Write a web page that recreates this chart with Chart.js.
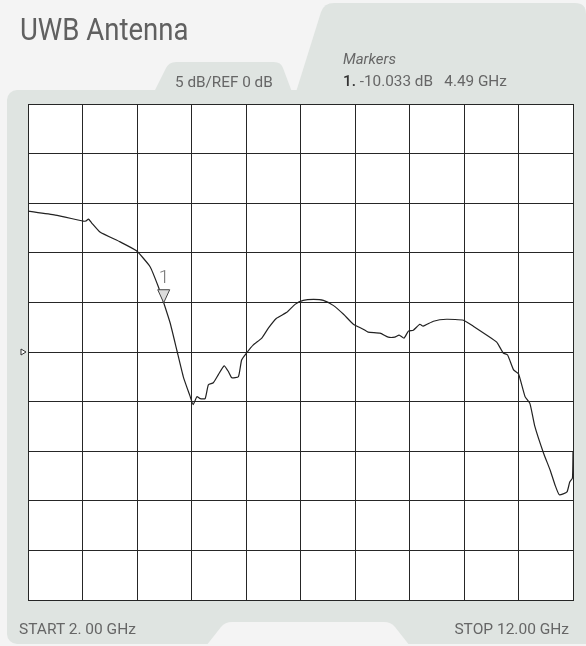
<!DOCTYPE html>
<html>
<head>
<meta charset="utf-8">
<script src="https://cdn.jsdelivr.net/npm/chart.js@4"></script>
<style>
    html, body { margin: 0; padding: 0; background: #f4f4f4; }
    #wrap { position: relative; width: 586px; height: 646px; overflow: hidden; font-family: Roboto, "Noto Sans", sans-serif; color: #666; }
    #myChart { position: absolute; left: 0; top: 0; }
    .lbl { position: absolute; white-space: pre; line-height: 1; }
    #title { left: 20px; top: 13px; font-size: 32px; color: #606060; transform: scaleX(0.86); transform-origin: left top; }
    #scaleInfo { left: 175px; top: 75px; font-size: 15.3px; }
    #markersHead { left: 343px; top: 52px; font-size: 15px; font-style: italic; }
    #markerVal { left: 343px; top: 74px; font-size: 15.3px; }
    #markerVal b { color: #333; font-weight: 500; }
    #start { left: 19px; top: 622px; font-size: 15.5px; }
    #stop { right: 17px; top: 622px; font-size: 15.5px; }
    #mk1 { font-size: 19px; font-weight: 300; color: #777; }
</style>
</head>
<body>
<div id="wrap">
    <canvas id="myChart" width="586" height="646"></canvas>
    <div class="lbl" id="title">UWB Antenna</div>
    <div class="lbl" id="scaleInfo">5 dB/REF 0 dB</div>
    <div class="lbl" id="markersHead">Markers</div>
    <div class="lbl" id="markerVal"><b>1.</b> -10.033 dB   4.49 GHz</div>
    <div class="lbl" id="start">START 2. 00 GHz</div>
    <div class="lbl" id="stop">STOP 12.00 GHz</div>
    <div class="lbl" id="mk1">1</div>
</div>
<script>
// fréquences (GHz) et réponse S11 (dB)
const freqGHz = [2.00, 2.50, 3.01, 3.06, 3.11, 3.17, 3.32, 3.69, 3.99, 4.24, 4.39, 4.49, 4.61, 4.73, 4.85,
    4.97, 5.03, 5.10, 5.16, 5.25, 5.31, 5.40, 5.49, 5.60, 5.68, 5.74, 5.86, 5.92, 6.01, 6.13, 6.29,
    6.41, 6.56, 6.75, 6.90, 7.05, 7.24, 7.42, 7.60, 7.79, 7.97, 8.15, 8.24, 8.46, 8.61, 8.73, 8.81,
    8.90, 8.98, 9.07, 9.19, 9.25, 9.44, 9.68, 9.99, 10.17, 10.42, 10.60, 10.72, 10.80, 10.91, 11.00,
    11.12, 11.21, 11.30, 11.46, 11.58, 11.67, 11.75, 11.89, 11.94, 11.99, 12.00];
const s11dB = [-0.8, -1.2, -1.8, -1.8, -1.6, -2.0, -2.9, -3.9, -4.8, -6.4, -8.4, -10.03, -12.1, -14.8, -17.5,
    -19.4, -20.3, -19.5, -19.7, -19.7, -18.3, -18.1, -17.3, -16.4, -17.0, -17.6, -17.5, -15.8, -15.1, -14.3, -13.6,
    -12.6, -11.6, -11.0, -10.2, -9.8, -9.7, -9.8, -10.3, -11.2, -12.2, -12.7, -13.0, -13.1, -13.5, -13.5, -13.3,
    -13.6, -12.9, -12.8, -12.2, -12.4, -11.9, -11.7, -11.8, -12.4, -13.3, -14.0, -15.1, -15.3, -16.8, -17.2,
    -19.5, -20.2, -22.5, -25.2, -26.9, -28.4, -29.4, -29.1, -28.1, -27.7, -25.0];

const startGHz = 2;
const stopGHz = 12;
const dbPerDiv = 5;
const topDb = 10;
const bottomDb = -40;
const refMarkDb = -15;
const marker = { freq: 4.49, db: -10.033 };

const panelColor = '#dfe4e1';
const pageColor = '#f4f4f4';

document.addEventListener('DOMContentLoaded', function() {
    const ctx = document.getElementById('myChart').getContext('2d');

    // fond : panneau, onglets, zone blanche
    const backgroundPlugin = {
        id: 'background',
        beforeDraw(chart) {
            const c = chart.ctx;
            const a = chart.chartArea;
            c.save();
            c.fillStyle = pageColor;
            c.fillRect(0, 0, chart.width, chart.height);

            c.fillStyle = panelColor;
            c.beginPath();
            c.roundRect(7, 90, 620, 554, 10);
            c.fill();

            // onglet gauche
            c.beginPath();
            c.moveTo(154, 92);
            c.lineTo(166, 68);
            c.quadraticCurveTo(169, 62, 176, 62);
            c.lineTo(274, 62);
            c.quadraticCurveTo(281, 62, 283, 68);
            c.lineTo(292, 92);
            c.closePath();
            c.fill();

            // onglet droit
            c.beginPath();
            c.moveTo(296, 92);
            c.lineTo(321, 12);
            c.quadraticCurveTo(324, 3, 334, 3);
            c.lineTo(575, 3);
            c.quadraticCurveTo(586, 3, 586, 14);
            c.lineTo(586, 92);
            c.closePath();
            c.fill();

            // encoche du bas
            c.fillStyle = pageColor;
            c.beginPath();
            c.moveTo(206, 646);
            c.lineTo(221, 627);
            c.quadraticCurveTo(225, 622, 232, 622);
            c.lineTo(384, 622);
            c.quadraticCurveTo(391, 622, 395, 627);
            c.lineTo(410, 646);
            c.closePath();
            c.fill();

            c.fillStyle = '#ffffff';
            c.fillRect(a.left, a.top, a.right - a.left, a.bottom - a.top);
            c.restore();
        }
    };

    // marqueur 1 et repère de référence
    const markerPlugin = {
        id: 'markers',
        afterDatasetsDraw(chart) {
            const c = chart.ctx;
            const xs = chart.scales.x;
            const ys = chart.scales.y;
            const mx = xs.getPixelForValue(marker.freq);
            const my = ys.getPixelForValue(marker.db);
            c.save();
            c.beginPath();
            c.moveTo(mx, my);
            c.lineTo(mx - 6, my - 13);
            c.lineTo(mx + 6, my - 13);
            c.closePath();
            c.fillStyle = '#dcdcdc';
            c.fill();
            c.strokeStyle = '#444';
            c.lineWidth = 1;
            c.stroke();

            const ry = ys.getPixelForValue(refMarkDb);
            const rx = chart.chartArea.left;
            c.beginPath();
            c.moveTo(rx - 2, ry);
            c.lineTo(rx - 7, ry - 3);
            c.lineTo(rx - 7, ry + 3);
            c.closePath();
            c.fillStyle = '#ffffff';
            c.fill();
            c.strokeStyle = '#333';
            c.stroke();
            c.restore();

            const lbl = document.getElementById('mk1');
            lbl.style.left = (mx - 5) + 'px';
            lbl.style.top = (my - 36) + 'px';
        }
    };

    const points = freqGHz.map((f, i) => ({ x: f, y: s11dB[i] }));

    new Chart(ctx, {
        type: 'line',
        data: {
            datasets: [{
                label: 'S11',
                data: points,
                borderColor: '#222',
                borderWidth: 1.2,
                pointRadius: 0,
                tension: 0.15,
                fill: false
            }]
        },
        options: {
            responsive: false,
            animation: false,
            devicePixelRatio: 1,
            layout: {
                padding: { left: 28, top: 104, right: 13, bottom: 46 }
            },
            plugins: {
                legend: { display: false },
                tooltip: { enabled: false }
            },
            scales: {
                x: {
                    type: 'linear',
                    min: startGHz,
                    max: stopGHz,
                    ticks: { display: false, stepSize: 1 },
                    grid: { color: '#262626', lineWidth: 1, drawTicks: false },
                    border: { display: true, color: '#262626', width: 1 }
                },
                y: {
                    type: 'linear',
                    min: bottomDb,
                    max: topDb,
                    ticks: { display: false, stepSize: dbPerDiv },
                    grid: { color: '#262626', lineWidth: 1, drawTicks: false },
                    border: { display: true, color: '#262626', width: 1 }
                }
            }
        },
        plugins: [backgroundPlugin, markerPlugin]
    });
});
</script>
</body>
</html>
